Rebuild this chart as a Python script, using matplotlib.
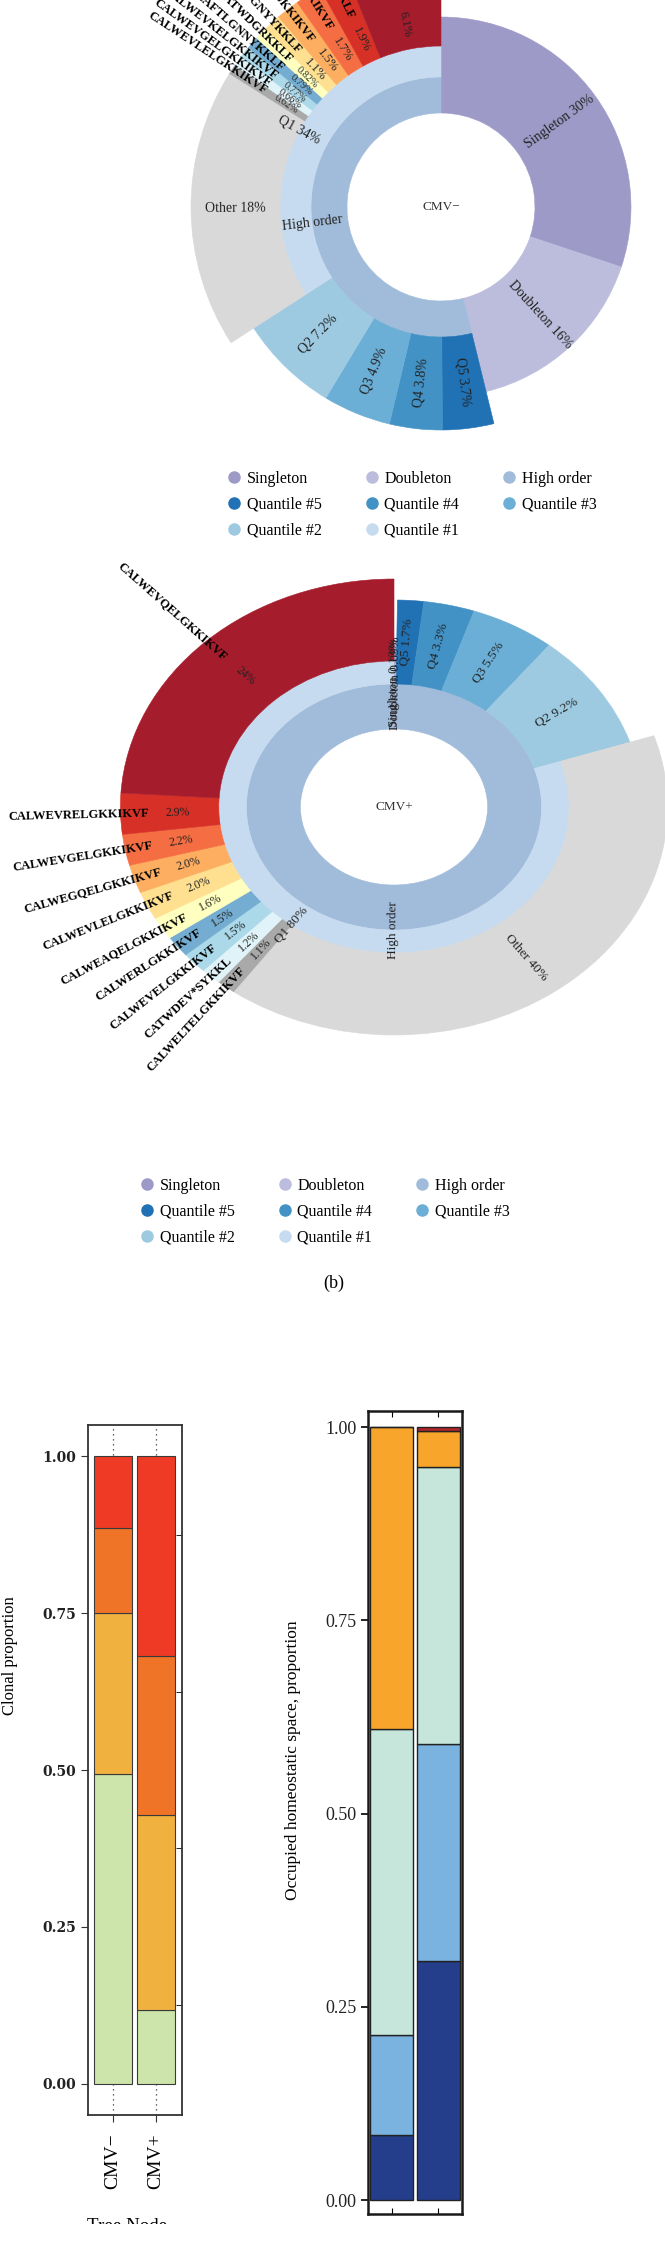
import matplotlib
matplotlib.use("Agg")
import numpy as np
import matplotlib.pyplot as plt
from matplotlib.lines import Line2D
from matplotlib.transforms import Bbox, TransformedBbox

plt.rcParams["font.family"] = ["Liberation Serif", "DejaVu Serif"]
plt.rcParams["axes.unicode_minus"] = False

W, H = 665, 2241

# ---------------- data ----------------
top_names = ["Singleton", "Doubleton"]
q_names = ["Q5", "Q4", "Q3", "Q2", "Q1"]

# CMV- sunburst
neg_top_vals = [30, 16]
neg_q_vals = [3.7, 3.8, 4.9, 7.2, 34]
neg_other = 18
neg_clone_names = ["CALWEVLELGKKIKVF", "CALWEVGELGKKIKVF", "CALWEVKELGKKIKVF",
                   "CALAFTLGNNYKKLF", "CALEATWDGRKKLF", "CALIGNYYKKLF",
                   "CALWEVDGKKIKVF", "CALWEGKIKVF", "CALWEGNYKKLF", "CALWEVQELGKKIKVF"]
neg_clone_vals = [0.62, 0.66, 0.77, 0.79, 0.82, 1.1, 1.5, 1.7, 1.9, 6.1]

# CMV+ sunburst
pos_top_vals = [0.13, 0.09]
pos_q_vals = [1.7, 3.3, 5.5, 9.2, 80]
pos_other = 40
pos_clone_names = ["CALWELTELGKKIKVF", "CATWDEV*SYKKL", "CALWEVELGKKIKVF", "CALWERLGKKIKVF",
                   "CALWEAQELGKKIKVF", "CALWEVLELGKKIKVF", "CALWEGQELGKKIKVF", "CALWEVGELGKKIKVF",
                   "CALWEVRELGKKIKVF", "CALWEVQELGKKIKVF"]
pos_clone_vals = [1.1, 1.2, 1.5, 1.5, 1.6, 2.0, 2.0, 2.2, 2.9, 24]

# stacked bars
groups = ["CMV\u2212", "CMV+"]
clonal_small = [0.494, 0.117]
clonal_medium = [0.257, 0.312]
clonal_large = [0.135, 0.253]
clonal_hyper = [0.114, 0.318]

space_rare = [0.084, 0.309]
space_small = [0.129, 0.281]
space_medium = [0.396, 0.359]
space_large = [0.391, 0.046]
space_hyper = [0.0, 0.005]

# ---------------- colours ----------------
top_colors = ["#9e9ac8", "#bcbddc"]
high_color = "#a1bcda"
q_colors = ["#2171b5", "#4292c6", "#6baed6", "#9ecae1", "#c6dbef"]
other_color = "#d9d9d9"
clone_colors = ["#a9a9a9", "#e0f3f8", "#abd9e9", "#74add1", "#ffffbf",
                "#fee090", "#fdae61", "#f46d43", "#d73027", "#a51c2c"]

fig = plt.figure(figsize=(W / 100, H / 100), dpi=100)


def pct(v):
    if v >= 10:
        return f"{v:.0f}%"
    if v >= 1:
        return f"{v:.1f}%"
    return f"{v:.2f}%"


def label(ax, sx, theta, r, s, size, ha="center", **kw):
    # direction of the radius on screen (the panel may be stretched sideways)
    a = np.degrees(np.arctan2(np.cos(theta), sx * np.sin(theta)))
    left = abs(a) > 90.01
    rot = a - 180 if (left and a > 0) else (a + 180 if left else a)
    if ha == "inner":
        ha = "right" if left else "left"
    kw.setdefault("color", "#222222")
    ax.text(theta, r, s, rotation=rot, rotation_mode="anchor", ha=ha, va="center",
            fontsize=size, **kw)


def sunburst(cx, cy, sx, radii, top_vals, q_vals, other, clone_names, clone_vals,
             centre, fs, pfrac):
    r0, r1, r2, lf1, lf2, lf3 = radii
    R = 300
    ax = fig.add_axes([(cx - R * sx) / W, 1 - (cy + R) / H, 2 * R * sx / W, 2 * R / H],
                      projection="polar")
    ax.set_aspect("auto")
    ax.set_theta_zero_location("N")
    ax.set_theta_direction(-1)
    ax.set_ylim(0, R)
    ax.set_axis_off()
    k = 2 * np.pi / (sum(top_vals) + sum(q_vals))
    t = 0.0
    for name, v, c in zip(top_names, top_vals, top_colors):
        ax.bar(t, lf1 - r0, width=v * k, bottom=r0, align="edge", color=c, ec=c, lw=0.4)
        label(ax, sx, t + v * k / 2, (r0 + lf1) / 2 + 4, f"{name} {pct(v)}", fs)
        t += v * k
    hspan = sum(q_vals) * k
    ax.bar(t, r1 - r0, width=hspan, bottom=r0, align="edge", color=high_color, ec=high_color, lw=0.4)
    label(ax, sx, t + hspan / 2, r1, "High order", fs)
    for name, v, c in zip(q_names, q_vals, q_colors):
        span = v * k
        if name == "Q1":
            ax.bar(t, r2 - r1, width=span, bottom=r1, align="edge", color=c, ec=c, lw=0.4)
            label(ax, sx, t + span / 2, r2, f"{name} {pct(v)}", fs)
            kk = span / (other + sum(clone_vals))
            s = t
            ax.bar(s, lf3 - r2, width=other * kk, bottom=r2, align="edge",
                   color=other_color, ec=other_color, lw=0.4)
            label(ax, sx, s + other * kk / 2, (r2 + lf3) / 2, f"Other {pct(other)}", fs)
            s += other * kk
            rp = r2 + pfrac * (lf3 - r2)
            for nm, cv, cc in zip(clone_names, clone_vals, clone_colors):
                ax.bar(s, lf3 - r2, width=cv * kk, bottom=r2, align="edge", color=cc, ec=cc, lw=0.4)
                mid = s + cv * kk / 2
                label(ax, sx, mid, rp, pct(cv), fs - 1 if cv >= 1 else fs - 2.5)
                label(ax, sx, mid, rp + 24, nm, 9, ha="inner", color="black", fontweight="bold")
                s += cv * kk
        else:
            ax.bar(t, lf2 - r1, width=span, bottom=r1, align="edge", color=c, ec=c, lw=0.4)
            label(ax, sx, t + span / 2, (r1 + lf2) / 2, f"{name} {pct(v)}", fs)
        t += span
    ax.text(0, 0, centre, ha="center", va="center", fontsize=9.5, color="#333333")


sunburst(441, 207, 1.0, (94, 130, 161, 190, 223, 250), neg_top_vals, neg_q_vals, neg_other,
         neg_clone_names, neg_clone_vals, "CMV\u2212", 10, 0.28)
sunburst(394, 807, 1.2, (78, 123, 146, 162, 207, 228), pos_top_vals, pos_q_vals, pos_other,
         pos_clone_names, pos_clone_vals, "CMV+", 9.5, 0.42)

# legends (column-wise order)
leg_names = ["Singleton", "Quantile #5", "Quantile #2", "Doubleton", "Quantile #4",
             "Quantile #1", "High order", "Quantile #3"]
leg_colors = [top_colors[0], q_colors[0], q_colors[3], top_colors[1], q_colors[1],
              q_colors[4], high_color, q_colors[2]]


def add_legend(x, y):
    handles = [Line2D([], [], marker="o", ls="", ms=8, color=c, label=n)
               for n, c in zip(leg_names, leg_colors)]
    fig.legend(handles=handles, ncol=3, loc="upper left", bbox_to_anchor=(x / W, 1 - y / H),
               frameon=False, fontsize=11.5, handlelength=0.8, handletextpad=0.4,
               columnspacing=2.7, labelspacing=0.6, borderpad=0, borderaxespad=0)


add_legend(228, 471)
add_legend(141, 1178)
fig.text(334 / W, 1 - 1283 / H, "(b)", ha="center", va="center", fontsize=13)

# ---------------- clonal proportion bars ----------------
x = np.arange(1, 3)
axL = fig.add_axes([88 / W, 1 - 2115 / H, 94 / W, 690 / H])
bottom = np.zeros(2)
for vals, c in zip([clonal_small, clonal_medium, clonal_large, clonal_hyper],
                   ["#cde5aa", "#f1b13f", "#f07427", "#ef3a25"]):
    axL.bar(x, vals, 0.885, bottom=bottom, color=c, edgecolor="#3a3a3a", lw=0.8)
    bottom += np.array(vals)
axL.set_xlim(0.42, 2.6)
axL.set_ylim(-0.05, 1.05)
axL.set_axisbelow(True)
axL.grid(True, axis="x", ls=(0, (1, 3)), color="#333333", lw=0.9)
axL.set_xticks(x)
axL.set_xticklabels(groups, rotation=90, fontsize=14)
yt = [0, 0.25, 0.5, 0.75, 1.0]
axL.set_yticks(yt)
axL.set_yticklabels([f"{v:.2f}" for v in yt], fontfamily="DejaVu Serif", fontweight="bold",
                    fontsize=10, color="#222222")
axL.set_yticks(np.arange(0.125, 1, 0.25), minor=True)
axL.tick_params(axis="y", which="minor", left=False, right=True, direction="in", length=4)
axL.tick_params(axis="both", which="major", length=5, color="#333333")
axL.tick_params(axis="x", pad=8)
for sp in axL.spines.values():
    sp.set_color("#333333")
    sp.set_linewidth(1.3)
fig.text(10 / W, 1 - 1656 / H, "Clonal proportion", rotation=90, ha="center", va="center",
         fontsize=12)
xl = fig.text(87 / W, 1 - 2231 / H, "Tree Node", ha="left", va="baseline", fontsize=13.7)
xl.set_clip_box(TransformedBbox(Bbox([[0, 1 - 2224 / H], [1, 1]]), fig.transFigure))
xl.set_clip_on(True)

# ---------------- homeostatic space bars ----------------
axR = fig.add_axes([368 / W, 1 - 2214 / H, 94 / W, 803 / H])
bottom = np.zeros(2)
for vals, c in zip([space_rare, space_small, space_medium, space_large, space_hyper],
                   ["#253e8c", "#7ab2e0", "#c6e6dc", "#f8a62b", "#b2262a"]):
    axR.bar(x, vals, 0.915, bottom=bottom, color=c, edgecolor="#222222", lw=1.0)
    bottom += np.array(vals)
axR.set_xlim(0.5, 2.5)
axR.set_ylim(-0.018, 1.021)
axR.set_xticks(x)
axR.set_xticklabels([])
axR.tick_params(axis="x", direction="in", top=True, bottom=True, length=4)
axR.set_yticks(yt)
axR.set_yticklabels([f"{v:.2f}" for v in yt], fontsize=13, color="#222222")
axR.tick_params(axis="y", length=5, width=1.2)
for sp in axR.spines.values():
    sp.set_color("#1a1a1a")
    sp.set_linewidth(1.8)
fig.text(293 / W, 1 - 1760 / H, "Occupied homeostatic space, proportion", rotation=90,
         ha="center", va="center", fontsize=12.5)

fig.savefig("out.png", dpi=100)
